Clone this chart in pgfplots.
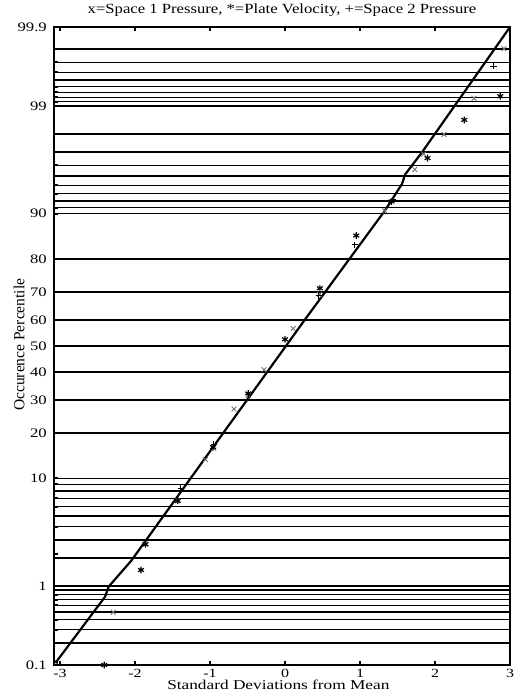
\documentclass[border=0pt]{standalone}
\usepackage{fontspec}
\setmainfont{Liberation Serif}
\newfontfamily\wfont{Liberation Serif}[FakeStretch=1.28]
\newfontfamily\tfont{Liberation Serif}[FakeStretch=1.19]
\usepackage{pgfplots}
\pgfplotsset{compat=1.18}
\begin{document}
\begin{tikzpicture}
\begin{axis}[
  scale only axis,
  width=456pt, height=638pt,
  xmin=-3.08, xmax=3.0,
  ymin=-3.0902, ymax=3.0902,
  clip=false,
  axis line style={line width=2pt},
  xtick={-3,-2,-1,0,1,2,3},
  xticklabels={-3,-2,-1,0,1,2,3},
  xtick pos=both,
  tick align=inside,
  major tick length=4pt,
  every tick/.style={line width=2pt, black},
  ytick pos=left,
  ytick={-3.0902,-2.8782,-2.7478,-2.6521,-2.5758,-2.5121,-2.4573,-2.4089,-2.3656,-2.3263,
         -2.0537,-1.8808,-1.7507,-1.6449,-1.5548,-1.4758,-1.4051,-1.3408,-1.2816,
         -0.8416,-0.5244,-0.2533,0,0.2533,0.5244,0.8416,
         1.2816,1.3408,1.4051,1.4758,1.5548,1.6449,1.7507,1.8808,2.0537,
         2.3263,2.3656,2.4089,2.4573,2.5121,2.5758,2.6521,2.7478,2.8782,3.0902},
  yticklabels={0.1,{},{},{},{},{},{},{},{},1,
         {},{},{},{},{},{},{},{},10,
         20,30,40,50,60,70,80,
         90,{},{},{},{},{},{},{},{},
         99,{},{},{},{},{},{},{},{},99.9},
  ymajorgrids=true,
  major grid style={line width=1.4pt, black},
  xticklabel style={font=\fontsize{12.5}{13}\wfont, anchor=base, inner sep=0pt, yshift=-12.5pt},
  yticklabel style={font=\fontsize{13}{15}\wfont, anchor=east, inner sep=0pt, xshift=-7pt},
  title={x=Space 1 Pressure, *=Plate Velocity, +=Space 2 Pressure},
  title style={font=\fontsize{14}{15}\tfont, at={(axis description cs:0.5,1.0125)}, anchor=base, inner sep=0pt},
  xlabel={Standard Deviations from Mean},
  xlabel style={font=\fontsize{13.5}{15}\wfont, at={(axis description cs:0.492,-0.0385)}, anchor=base, inner sep=0pt},
  ylabel={Occurence Percentile},
  ylabel style={font=\fontsize{15.5}{17}\selectfont, at={(axis description cs:-0.0768,0.502)}, anchor=center, inner sep=0pt},
]
% fitted line
\addplot[black, line width=2.2pt, line join=round] coordinates {
  (-3.06,-3.07) (-2.40,-2.43) (-2.37,-2.37) (-2.35,-2.33) (-2.05,-2.08)
  (0.27,0.26) (1.34,1.32) (1.56,1.57) (1.60,1.66) (1.82,1.87) (3.00,3.09)
};
\addplot[only marks, mark=o, mark size=2pt, black, line width=0.8pt] coordinates {(-3.06,-3.07)};
% short mark on left axis
\addplot[black, line width=1.4pt] coordinates {(-3.08,-2.016) (-3.02,-2.016)};
% Space 1 Pressure (x)
\addplot[only marks, mark=x, mark size=3.4pt, black!55, line width=0.9pt] coordinates {
  (-2.29,-2.58) (-1.86,-1.92) (-1.43,-1.50) (-1.06,-1.10) (-0.95,-0.99) (-0.68,-0.61)
  (-0.49,-0.48) (-0.28,-0.23) (0.11,0.17) (0.46,0.50) (1.33,1.31) (1.73,1.71)
  (1.85,1.86) (2.12,2.05) (2.52,2.40) (2.92,2.88)
};
% Plate Velocity (*)
\addplot[only marks, mark=asterisk, mark size=3.4pt, black, line width=1.2pt] coordinates {
  (-2.41,-3.09) (-1.92,-2.17) (-1.86,-1.92) (-1.43,-1.50) (-0.96,-0.98) (-0.49,-0.46)
  (0.0,0.065) (0.465,0.56) (0.95,1.07) (1.42,1.40) (1.90,1.82) (2.39,2.19) (2.87,2.42)
};
% Space 2 Pressure (+)
\addplot[only marks, mark=+, mark size=3.2pt, black, line width=1pt] coordinates {
  (-1.39,-1.38) (-0.95,-0.95) (0.45,0.49) (0.93,0.98) (1.44,1.42) (2.78,2.71)
};
\end{axis}
\path ([shift={(-54pt,-33pt)}]current axis.south west) rectangle ([shift={(4pt,27pt)}]current axis.north east);
\end{tikzpicture}
\end{document}
